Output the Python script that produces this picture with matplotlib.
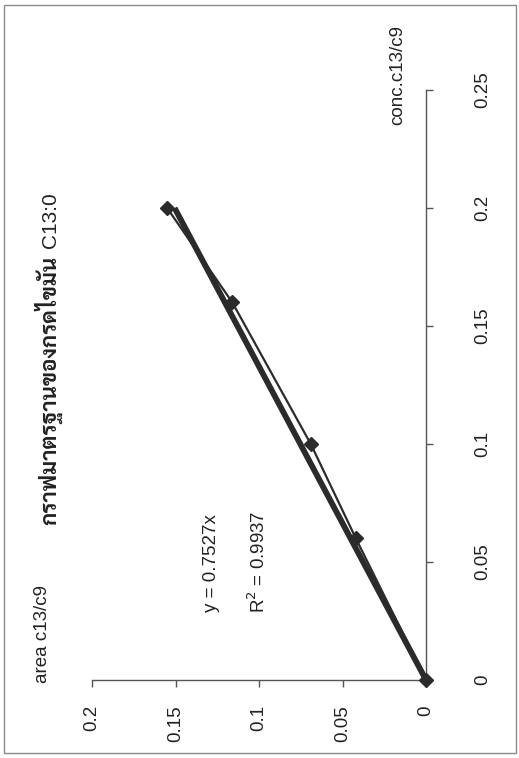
import matplotlib
matplotlib.use("Agg")
import matplotlib.pyplot as plt
from matplotlib.patches import Rectangle

# data (chart is shown rotated 90 degrees counter-clockwise)
conc = [0.0, 0.06, 0.10, 0.16, 0.20]          # conc.c13/c9 (original x)
area = [0.0, 0.042, 0.069, 0.116, 0.155]      # area c13/c9 (original y)
slope = 0.7527
r2 = 0.9937
conc_ticks = [0, 0.05, 0.1, 0.15, 0.2, 0.25]
conc_labels = ["0", "0.05", "0.1", "0.15", "0.2", "0.25"]
area_ticks = [0, 0.05, 0.1, 0.15, 0.2]
area_labels = ["0", "0.05", "0.1", "0.15", "0.2"]
title_thai = "กราฟมาตรฐานของกรดไขมัน"
title_code = "C13:0"

W, H = 519, 758
fig = plt.figure(figsize=(W / 100, H / 100), dpi=100)

def fx(px):
    return px / W

def fy(py):
    return 1 - py / H

x0, x1 = 92, 426   # area 0.2 -> 0
y0, y1 = 680, 90   # conc 0 -> 0.25
ax = fig.add_axes([fx(x0), fy(y0), fx(x1) - fx(x0), fy(y1) - fy(y0)])
ax.set_xlim(0.2, 0)
ax.set_ylim(0, 0.25)
ax.patch.set_alpha(0)

for s in ("top", "left"):
    ax.spines[s].set_visible(False)
axis_col = "#555555"
for s in ("bottom", "right"):
    ax.spines[s].set_color(axis_col)
    ax.spines[s].set_linewidth(1.0)

FS = 13.5
font = "Liberation Sans"
txt_col = "#222222"
ax.yaxis.tick_right()
ax.set_yticks(conc_ticks)
ax.set_yticklabels(conc_labels, rotation=90, va="center", ha="left",
                   fontsize=FS, family=font, color=txt_col)
ax.tick_params(axis="y", direction="out", length=5, width=1, color=axis_col, pad=30)
ax.set_xticks(area_ticks)
ax.set_xticklabels(area_labels, rotation=90, va="top", ha="center",
                   fontsize=FS, family=font, color=txt_col)
ax.tick_params(axis="x", direction="out", length=5, width=1, color=axis_col, pad=13)

line_col = "#2b2b2b"
fit_conc = [0.0, max(conc)]
fit_area = [slope * c for c in fit_conc]
ax.plot(fit_area, fit_conc, color=line_col, lw=4.2, solid_capstyle="butt", zorder=3)
ax.plot(area, conc, color=line_col, lw=1.6, marker="D", ms=7.5,
        mfc=line_col, mec=line_col, zorder=4, clip_on=False)

# texts
fig.text(fx(398), fy(75), "conc.c13/c9", rotation=90, ha="center", va="center",
         fontsize=FS, family=font, color=txt_col)
fig.text(fx(212), fy(563), "y = %.4fx" % slope, rotation=90, ha="center", va="center",
         fontsize=FS, family=font, color=txt_col)
fig.text(fx(258), fy(562), "R$^2$ = %.4f" % r2, rotation=90, ha="center", va="center",
         fontsize=FS, family=font, color=txt_col)

# header line: "area c13/c9" and the Thai title
fig.text(fx(47), fy(683), "area c13/c9", rotation=90, rotation_mode="anchor",
         ha="left", va="baseline", fontsize=FS, family=font, color=txt_col)

title_x = 56
thai_fam = ["Sarabun", "IBM Plex Sans Thai Looped", "Noto Sans Thai", "DejaVu Sans"]
t1 = fig.text(fx(title_x), fy(525), title_thai, rotation=90, rotation_mode="anchor",
              ha="left", va="baseline", fontsize=16, fontweight="bold",
              color=txt_col, family=thai_fam)
fig.canvas.draw()
bb = t1.get_window_extent()
top_px = H - bb.y1   # pixel row (from top) of the upper end of the Thai text
fig.text(fx(title_x), fy(top_px - 8), title_code, rotation=90, rotation_mode="anchor",
         ha="left", va="baseline", fontsize=15, color=txt_col, family=font)

# scan border
fig.add_artist(Rectangle((fx(4), fy(753)), fx(512), 748 / H, transform=fig.transFigure,
                         fill=False, ec="#8a8a8a", lw=1.0))

fig.savefig("out.png", dpi=100)
